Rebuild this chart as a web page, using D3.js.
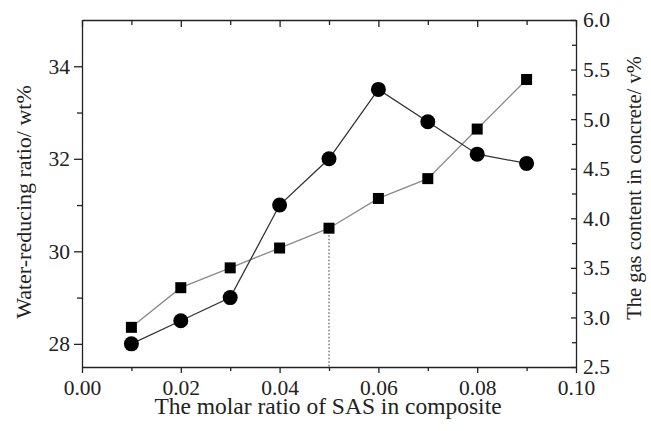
<html>
  <head>
    <meta charset="utf-8">
    <script src="https://d3js.org/d3.v7.min.js"></script>
    <style>
      body { margin: 0px; background: #fff; }
      text { font-family: "Liberation Serif", "Times New Roman", serif; fill: #222; }
      .tick text { font-size: 21.5px; }
      .axis path, .axis line { stroke: #222; stroke-width: 1.3px; }
    </style>
  </head>
  <body>
    <svg width="651" height="431"></svg>
    <script>
      // molar ratio of SAS
      var ratios = [0.01, 0.02, 0.03, 0.04, 0.05, 0.06, 0.07, 0.08, 0.09];
      // water-reducing ratio (wt%) - circles, left axis
      var waterReducing = [28.0, 28.5, 29.0, 31.0, 32.0, 33.5, 32.8, 32.1, 31.9];
      // gas content (v%) - squares, right axis
      var gasContent = [2.9, 3.3, 3.5, 3.7, 3.9, 4.2, 4.4, 4.9, 5.4];
      var markedRatio = 0.05;

      var xTicks = [0, 0.02, 0.04, 0.06, 0.08, 0.10];
      var xMinor = [0.01, 0.03, 0.05, 0.07, 0.09];
      var yLeftTicks = [28, 30, 32, 34];
      var yLeftMinor = [29, 31, 33];
      var yRightTicks = [2.5, 3.0, 3.5, 4.0, 4.5, 5.0, 5.5, 6.0];
      var yRightMinor = [2.75, 3.25, 3.75, 4.25, 4.75, 5.25, 5.75];

      var margin = { top: 20, right: 75, bottom: 64, left: 82 };
      var svg = d3.select('svg');
      var width = +svg.attr('width');
      var height = +svg.attr('height');
      var innerWidth = width - margin.left - margin.right;
      var innerHeight = height - margin.top - margin.bottom;

      var g = svg.append('g')
          .attr('transform', `translate(${margin.left},${margin.top})`);

      var xScale = d3.scaleLinear().domain([0, 0.10]).range([0, innerWidth]);
      var yLeft = d3.scaleLinear().domain([27.5, 35]).range([innerHeight, 0]);
      var yRight = d3.scaleLinear().domain([2.5, 6.0]).range([innerHeight, 0]);

      // axes: major + minor for each side
      function drawAxis(axisFn, scale, ticks, minor, size, minorSize, pad, fmt, transform) {
        var a = g.append('g').attr('class', 'axis').attr('transform', transform);
        a.call(axisFn(scale).tickValues(ticks).tickSize(size).tickSizeOuter(0).tickPadding(pad).tickFormat(fmt));
        var m = g.append('g').attr('class', 'axis').attr('transform', transform);
        m.call(axisFn(scale).tickValues(minor).tickSize(minorSize).tickSizeOuter(0).tickFormat(''));
        m.select('.domain').remove();
        return a;
      }

      drawAxis(d3.axisBottom, xScale, xTicks, xMinor, 6, 4, 7, d3.format('.2f'),
        `translate(0,${innerHeight})`);
      drawAxis(d3.axisTop, xScale, xTicks, xMinor, -7, -5, 3, '', 'translate(0,0)');
      drawAxis(d3.axisLeft, yLeft, yLeftTicks, yLeftMinor, 8, 5, 4, d3.format('d'), 'translate(0,0)');
      var rightAxis = drawAxis(d3.axisRight, yRight, yRightTicks, yRightMinor, -5, -4, 3, d3.format('.1f'),
        `translate(${innerWidth},0)`);
      rightAxis.selectAll('.tick text').attr('x', 7);

      // dotted guide at marked ratio
      var markIdx = ratios.indexOf(markedRatio);
      g.append('line')
        .attr('x1', xScale(markedRatio)).attr('x2', xScale(markedRatio))
        .attr('y1', yRight(gasContent[markIdx])).attr('y2', innerHeight)
        .attr('stroke', '#555').attr('stroke-width', 1.2)
        .attr('stroke-dasharray', '1.5,2');

      var rows = ratios.map((r, i) => ({ r: r, w: waterReducing[i], gas: gasContent[i] }));

      // gas content line + squares
      g.append('path').datum(rows)
        .attr('fill', 'none').attr('stroke', '#8a8a8a').attr('stroke-width', 1.3)
        .attr('d', d3.line().x(d => xScale(d.r)).y(d => yRight(d.gas)));
      g.selectAll('rect.sq').data(rows).enter().append('rect')
        .attr('class', 'sq')
        .attr('x', d => xScale(d.r) - 5.5).attr('y', d => yRight(d.gas) - 5.5)
        .attr('width', 11).attr('height', 11)
        .attr('fill', '#000');

      // water-reducing line + circles
      g.append('path').datum(rows)
        .attr('fill', 'none').attr('stroke', '#333').attr('stroke-width', 1.3)
        .attr('d', d3.line().x(d => xScale(d.r)).y(d => yLeft(d.w)));
      g.selectAll('circle').data(rows).enter().append('circle')
        .attr('cx', d => xScale(d.r)).attr('cy', d => yLeft(d.w))
        .attr('r', 7.5).attr('fill', '#000');

      // titles
      svg.append('text')
        .attr('x', 328).attr('y', 414)
        .attr('text-anchor', 'middle').style('font-size', '23.5px')
        .text('The molar ratio of SAS in composite');
      svg.append('text')
        .attr('transform', 'translate(31,202) rotate(-90)')
        .attr('text-anchor', 'middle').style('font-size', '22px')
        .text('Water-reducing ratio/ wt%');
      svg.append('text')
        .attr('transform', 'translate(641,188) rotate(-90)')
        .attr('text-anchor', 'middle').style('font-size', '20.5px')
        .text('The gas content in concrete/ v%');
    </script>
  </body>
</html>
